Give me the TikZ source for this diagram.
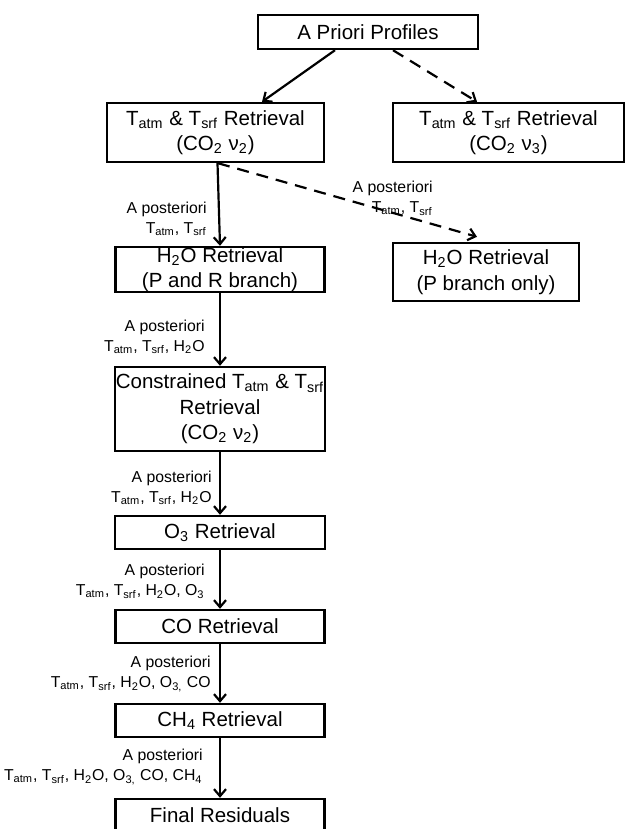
\documentclass[tikz,border=0pt]{standalone}
\usepackage{fontspec}
\setmainfont{Liberation Sans}
\usetikzlibrary{arrows.meta}
\newcommand{\Ta}{T\textsubscript{atm}}
\newcommand{\Ts}{T\textsubscript{srf}}

\begin{document}
\begin{tikzpicture}[x=0.5pt, y=-0.5pt,
    box/.style={draw, rectangle, line width=1.2pt, align=center, inner xsep=0.5pt, inner ysep=0pt,
      font=\fontsize{10.25}{12.75}\selectfont},
    lbl/.style={align=right, inner sep=0pt, anchor=east,
      font=\fontsize{7.9}{10}\selectfont},
    arr/.style={line width=1.1pt, -{Straight Barb[length=3.5pt, width=6pt]}},
    dsh/.style={dash pattern=on 6pt off 4pt}]
    \useasboundingbox (0,0) rectangle (626,829);

    \node[box, minimum width=110pt, minimum height=17pt]
      (pri) at (368,32) {A Priori Profiles};
    \node[box, minimum width=108.5pt, minimum height=29.5pt]
      (tl) at (215.5,132.5) {\Ta{} \& \Ts{} Retrieval\\(CO\textsubscript{2} ν\textsubscript{2})};
    \node[box, minimum width=115.5pt, minimum height=29.5pt]
      (tr) at (508.5,132.5) {\Ta{} \& \Ts{} Retrieval\\(CO\textsubscript{2} ν\textsubscript{3})};
    \node[box, minimum width=104.5pt, minimum height=22.5pt]
      (hl) at (220,269.5) {H\textsubscript{2}O Retrieval\\(P and R branch)};
    \node[box, minimum width=93pt, minimum height=29pt]
      (hr) at (486,272) {H\textsubscript{2}O Retrieval\\(P branch only)};
    \node[box, minimum width=104pt, minimum height=42pt]
      (con) at (220,409) {Constrained \Ta{} \& \Ts\\Retrieval\\(CO\textsubscript{2} ν\textsubscript{2})};
    \node[box, minimum width=105pt, minimum height=16.5pt]
      (o3) at (220,532.5) {O\textsubscript{3} Retrieval};
    \node[box, minimum width=104.5pt, minimum height=16.5pt]
      (co) at (220,626.5) {CO Retrieval};
    \node[box, minimum width=104.5pt, minimum height=16.5pt]
      (ch4) at (220,720.5) {CH\textsubscript{4} Retrieval};
    \node[box, minimum width=104.5pt, minimum height=16.5pt]
      (fin) at (220,815.5) {Final Residuals};

    % a posteriori labels
    \node[lbl] (p1) at (207,219) {A posteriori\\\Ta, \Ts};
    \node[lbl] (pd) at (433,198.5) {A posteriori\\\Ta, \Ts};
    \node[lbl] (p2) at (205,337) {A posteriori\\\Ta, \Ts, H\textsubscript{2}O};
    \node[lbl] (p3) at (212,488) {A posteriori\\\Ta, \Ts, H\textsubscript{2}O};
    \node[lbl] (p4) at (205,581.5) {A posteriori\\\Ta, \Ts, H\textsubscript{2}O, O\textsubscript{3}};
    \node[lbl] (p5) at (211,674) {A posteriori\\\Ta, \Ts, H\textsubscript{2}O, O\textsubscript{3,} CO};
    \node[lbl] (p6) at (203,767) {A posteriori\\\Ta, \Ts, H\textsubscript{2}O, O\textsubscript{3,} CO, CH\textsubscript{4}};

    \draw[arr] ([xshift=-16.5pt]pri.south) -- ([xshift=23.25pt]tl.north);
    \draw[arr, dsh] ([xshift=12.5pt]pri.south) -- ([xshift=-15.75pt]tr.north);
    \draw[arr] ([xshift=1pt]tl.south) -- (hl.north);
    \draw[arr, dsh] ([xshift=1.25pt]tl.south) -- ([xshift=-4.5pt, yshift=2.5pt]hr.north);
    \draw[arr] (hl) -- (con);
    \draw[arr] (con) -- (o3);
    \draw[arr] (o3) -- (co);
    \draw[arr] (co) -- (ch4);
    \draw[arr] (ch4) -- (fin);
  \end{tikzpicture}
\end{document}
